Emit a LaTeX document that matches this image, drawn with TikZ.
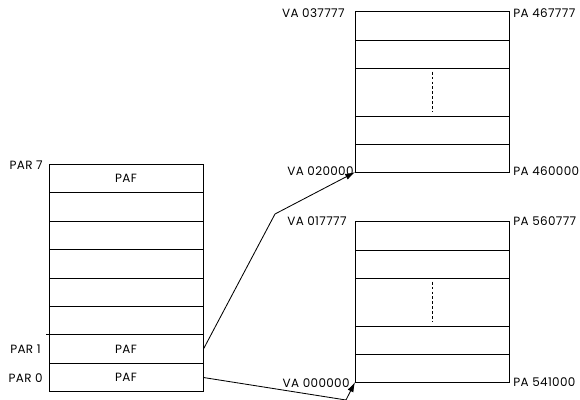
\documentclass[tikz,border=0pt]{standalone}
\usepackage{fontspec}
\setmainfont{Poppins}[LetterSpace=3]
\usetikzlibrary{arrows.meta,positioning,calc}
\tikzset{
    every node/.style={font=\fontsize{8.5}{10}\selectfont},
    parrow/.style={
        draw, line width=0.6pt,
        minimum width=3.85cm, minimum height=0.711cm,
        inner sep=0pt, sharp corners
    },
    pagebox/.style={draw, line width=0.6pt},
    addr/.style={inner sep=1.5pt},
    pagedots/.style={line width=0.5pt, dash pattern=on 2pt off 1.5pt},
    maparrow/.style={-{Latex[length=7pt,width=4.5pt]}, line width=0.6pt},
}

\begin{document}
\begin{tikzpicture}[x=0.025cm, y=-0.025cm]
    \useasboundingbox (0,0) rectangle (580,400);

    % PAR table, PAR 0 at the bottom
    \foreach \i in {0,...,7}
        \node[parrow] (par\i) at (126,{377.5-28.43*\i}) {};
    \node at (par7) {PAF};
    \node at (par1) {PAF};
    \node at (par0) {PAF};
    \draw[line width=0.6pt] (par1.north west) -- ++(-3,0);
    \node[addr, anchor=east] at (45,165.5) {PAR 7};
    \node[addr, anchor=east] at (43,349) {PAR 1};
    \node[addr, anchor=east] at (45,378.5) {PAR 0};

    % Pages in physical memory
    \foreach \top/\nm in {11.7/hi, 221.7/lo} {
        \draw[pagebox] (355,\top) rectangle (509.5,\top+160.5);
        \foreach \yy in {28.5,57,104.5,132.5}
            \draw[line width=0.6pt] (355,\top+\yy) -- (509.5,\top+\yy);
        \draw[pagedots] (432.5,\top+60) -- (432.5,\top+100.5);
        \coordinate (\nm top) at (355,\top);
        \coordinate (\nm base) at (355,\top+160.5);
    }

    % Address labels
    \node[addr, anchor=east] at (347,13) {VA 037777};
    \node[addr, anchor=west] at (511,13) {PA 467777};
    \node[addr, anchor=east] at (356,171) {VA 020000};
    \node[addr, anchor=west] at (511,171) {PA 460000};
    \node[addr, anchor=east] at (349,221) {VA 017777};
    \node[addr, anchor=west] at (511,221) {PA 560777};
    \node[addr, anchor=east] at (352,383) {VA 000000};
    \node[addr, anchor=west] at (511,382.5) {PA 541000};

    % Mapping lines
    \coordinate (bend1) at (275,214);
    \coordinate (bend0) at (346,400);
    \draw[maparrow] (par1.east) -- (bend1) -- (hibase);
    \draw[maparrow] (par0.east) -- (bend0) -- (lobase);
\end{tikzpicture}
\end{document}
